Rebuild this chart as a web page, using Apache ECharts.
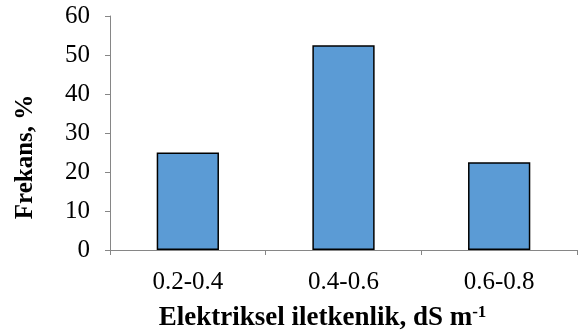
<!DOCTYPE html>
<html><head><meta charset="utf-8">
<script src="https://cdn.jsdelivr.net/npm/echarts@6/dist/echarts.min.js"></script>
<style>html,body{margin:0;padding:0;background:#fff}#c{width:583px;height:336px}</style>
</head><body><div id="c"></div>
<script>
const categories = ['0.2-0.4', '0.4-0.6', '0.6-0.8'];
const frekans = [25, 52.5, 22.5];
const yTicks = [0, 60, 10];

const chart = echarts.init(document.getElementById('c'), null, {renderer: 'canvas'});
const font = '"Liberation Serif", "Times New Roman", serif';
chart.setOption({
  animation: false,
  backgroundColor: '#fff',
  grid: {left: 110, right: 6, top: 16, bottom: 86, containLabel: false, outerBoundsMode: 'none'},
  xAxis: {
    type: 'category',
    data: categories,
    boundaryGap: true,
    axisLine: {lineStyle: {color: '#868686', width: 1}},
    axisTick: {show: true, alignWithLabel: false, length: 5, lineStyle: {color: '#868686'}},
    axisLabel: {color: '#000', fontFamily: font, fontSize: 25, margin: 20},
    name: '{b|Elektriksel iletkenlik, dS m}{s|-1}',
    nameLocation: 'middle',
    nameGap: 54,
    nameTextStyle: {
      fontFamily: font,
      padding: [0, 42, 0, 0],
      rich: {
        b: {fontFamily: font, fontSize: 27, fontWeight: 'bold', color: '#000', lineHeight: 28, verticalAlign: 'bottom'},
        s: {fontFamily: font, fontSize: 17, fontWeight: 'bold', color: '#000', lineHeight: 28, verticalAlign: 'top'}
      }
    }
  },
  yAxis: {
    type: 'value',
    min: yTicks[0], max: yTicks[1], interval: yTicks[2],
    axisLine: {show: true, lineStyle: {color: '#868686', width: 1}},
    axisTick: {show: true, length: 5, lineStyle: {color: '#868686'}},
    splitLine: {show: false},
    axisLabel: {color: '#000', fontFamily: font, fontSize: 25, margin: 20},
    name: 'Frekans, %',
    nameLocation: 'middle',
    nameGap: 72,
    nameTextStyle: {fontFamily: font, fontSize: 25, fontWeight: 'bold', color: '#000', padding: [0, 48, 0, 0]}
  },
  series: [{
    type: 'bar',
    data: frekans,
    barWidth: '40%',
    itemStyle: {color: '#5B9BD5', borderColor: '#000', borderWidth: 1.5}
  }]
});
</script></body></html>
